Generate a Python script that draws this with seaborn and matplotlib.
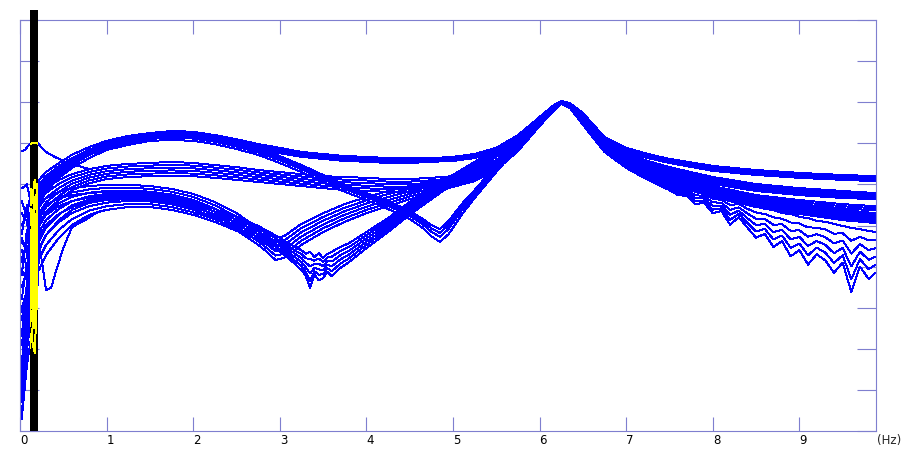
import matplotlib
matplotlib.use('Agg')

import numpy
import pandas
import seaborn as sns
import matplotlib.pyplot as plt

FRAME = '#7f7fcf'
TRACE = '#0000ff'
MARK = '#ffff00'

X_TICKS = [0, 1, 2, 3, 4, 5, 6, 7, 8, 9]
Y_TICKS = [0, 1, 2, 3, 4, 5, 6, 7, 8, 9, 10]

# black cursor band (Hz)
CURSOR = (0.115, 0.205)

# every trace starts with four low frequency values
LOW_FREQ = [0.02, 0.08, 0.13, 0.17]

# band A1: top hump, flat plateau up to the 6.25 Hz peak
FREQ_A = [0.22, 0.3, 0.45, 0.6, 0.8, 1.0, 1.25, 1.5, 1.75, 2.0, 2.25, 2.5, 2.75, 3.0, 3.25, 3.5, 3.75,
          4.0, 4.25, 4.5, 4.75, 5.0, 5.25, 5.5, 5.75, 6.0, 6.15, 6.25, 6.35, 6.5, 6.75, 7.0, 7.25, 7.5,
          8.0, 8.5, 9.0, 9.5, 9.88]
A1_UP = [6.11, 6.30, 6.52, 6.72, 6.91, 7.06, 7.18, 7.25, 7.30, 7.28, 7.20, 7.10, 6.98, 6.89, 6.79, 6.74, 6.69,
         6.67, 6.64, 6.64, 6.64, 6.67, 6.74, 6.89, 7.20, 7.64, 7.91, 8.03, 7.98, 7.74, 7.15, 6.89, 6.74, 6.62,
         6.45, 6.35, 6.28, 6.23, 6.20]
A1_LOW = [5.62, 5.91, 6.23, 6.47, 6.72, 6.89, 7.01, 7.10, 7.15, 7.13, 7.06, 6.96, 6.86, 6.76, 6.67, 6.62, 6.57,
          6.55, 6.52, 6.52, 6.55, 6.57, 6.64, 6.79, 7.10, 7.54, 7.83, 7.98, 7.93, 7.66, 7.06, 6.79, 6.64, 6.52,
          6.33, 6.23, 6.16, 6.11, 6.08]
A1_SPOTS = [0.0, 0.33, 0.67, 1.0]
A1_START = [[5.6, 5.2, 5.9, 5.4], [4.1, 4.6, 5.4, 4.7], [2.3, 3.6, 4.9, 4.2], [5.9, 6.0, 5.5, 6.1]]

# band B: second hump, same frequency grid as A1
B_UP = [5.74, 5.91, 6.11, 6.25, 6.37, 6.45, 6.50, 6.52, 6.55, 6.52, 6.47, 6.42, 6.35, 6.30, 6.25, 6.20, 6.18,
        6.16, 6.13, 6.13, 6.16, 6.20, 6.33, 6.57, 7.01, 7.54, 7.86, 8.03, 7.96, 7.69, 7.08, 6.76, 6.57, 6.42,
        6.18, 6.01, 5.91, 5.84, 5.79]
B_LOW = [5.01, 5.33, 5.62, 5.86, 6.03, 6.13, 6.18, 6.20, 6.20, 6.20, 6.16, 6.11, 6.06, 6.01, 5.96, 5.91, 5.86,
         5.84, 5.82, 5.82, 5.86, 5.94, 6.08, 6.35, 6.81, 7.42, 7.76, 7.96, 7.86, 7.54, 6.91, 6.59, 6.40, 6.23,
         6.01, 5.84, 5.74, 5.67, 5.64]
B_SPOTS = [0.0, 0.2, 0.4, 0.6, 0.8, 1.0]
B_START = [[4.4, 4.0, 4.8, 3.9], [0.9, 2.4, 3.9, 3.1], [5.3, 5.1, 4.4, 5.2], [2.7, 3.5, 3.0, 4.3],
           [4.8, 5.5, 5.0, 5.6], [0.4, 1.9, 3.2, 2.7]]

# band A2: top hump falling into the 4.8 Hz notch
FREQ_A2 = [0.22, 0.3, 0.45, 0.6, 0.8, 1.0, 1.25, 1.5, 1.75, 2.0, 2.25, 2.5, 2.75, 3.0, 3.25, 3.5, 3.75,
           4.0, 4.25, 4.5, 4.65, 4.75, 4.85, 4.95, 5.1, 5.25, 5.5, 5.75, 6.0, 6.15, 6.25, 6.35, 6.5, 6.75,
           7.0, 7.25, 7.5, 8.0, 8.5, 9.0, 9.5, 9.88]
A2_UP = [5.99, 6.20, 6.45, 6.64, 6.84, 7.01, 7.13, 7.20, 7.23, 7.20, 7.13, 7.01, 6.86, 6.69, 6.47, 6.23, 5.99,
         5.79, 5.60, 5.35, 5.16, 5.01, 4.91, 5.11, 5.52, 5.86, 6.47, 7.06, 7.59, 7.88, 8.03, 7.96, 7.66, 7.03,
         6.69, 6.47, 6.30, 5.96, 5.74, 5.62, 5.52, 5.47]
A2_LOW = [5.50, 5.82, 6.16, 6.40, 6.64, 6.84, 6.96, 7.06, 7.08, 7.06, 6.98, 6.86, 6.72, 6.52, 6.30, 6.06, 5.82,
          5.62, 5.40, 5.16, 4.94, 4.74, 4.60, 4.79, 5.26, 5.67, 6.30, 6.91, 7.47, 7.81, 7.96, 7.88, 7.57, 6.91,
          6.57, 6.33, 6.16, 5.82, 5.60, 5.45, 5.35, 5.30]
A2_SPOTS = [0.0, 0.3, 0.6, 1.0]
A2_START = [[3.8, 4.9, 4.0, 5.6], [1.6, 3.2, 4.4, 3.5], [5.0, 5.3, 4.6, 5.7], [3.2, 4.1, 3.6, 4.8]]

# band C: third hump with the notch near 3 Hz
FREQ_C = [0.22, 0.3, 0.45, 0.6, 0.8, 1.0, 1.25, 1.5, 1.75, 2.0, 2.25, 2.5, 2.75, 2.85, 2.95, 3.05, 3.15, 3.25,
          3.5, 3.75, 4.0, 4.25, 4.5, 4.75, 5.0, 5.25, 5.5, 5.75, 6.0, 6.15, 6.25, 6.35, 6.5, 6.75,
          7.0, 7.25, 7.5, 8.0, 8.5, 9.0, 9.5, 9.88]
C_UP = [5.50, 5.67, 5.82, 5.91, 5.96, 5.99, 5.99, 5.96, 5.89, 5.77, 5.57, 5.30, 4.94, 4.82, 4.70, 4.74, 4.89, 5.04,
        5.30, 5.52, 5.69, 5.84, 5.96, 6.06, 6.18, 6.35, 6.59, 7.01, 7.54, 7.86, 8.03, 7.93, 7.64, 7.01,
        6.67, 6.45, 6.25, 5.91, 5.67, 5.50, 5.38, 5.30]
C_LOW = [4.40, 4.77, 5.13, 5.38, 5.55, 5.62, 5.64, 5.62, 5.55, 5.40, 5.18, 4.89, 4.53, 4.36, 4.16, 4.21, 4.36, 4.53,
         4.84, 5.09, 5.30, 5.47, 5.64, 5.79, 5.94, 6.13, 6.40, 6.84, 7.42, 7.79, 7.96, 7.86, 7.52, 6.86,
         6.52, 6.28, 6.08, 5.69, 5.45, 5.28, 5.13, 5.06]
C_SPOTS = [0.0, 0.2, 0.4, 0.6, 0.8, 1.0]
C_START = [[3.5, 3.9, 3.2, 4.5], [4.6, 4.4, 3.9, 4.9], [1.3, 2.8, 3.4, 2.9], [2.9, 3.3, 4.1, 3.4],
           [0.7, 2.0, 2.9, 2.5], [4.2, 4.5, 3.7, 4.7]]

# band D: lowest hump, noisy notch near 3.4 Hz and noisy tail
FREQ_D = [0.22, 0.3, 0.45, 0.6, 0.8, 1.0, 1.25, 1.5, 1.75, 2.0, 2.25, 2.5, 2.75,
          3.0, 3.1, 3.2, 3.25, 3.3, 3.35, 3.4, 3.45, 3.5, 3.55, 3.6, 3.7, 3.8,
          4.0, 4.25, 4.5, 4.75, 5.0, 5.25, 5.5, 5.75, 6.0, 6.15, 6.25, 6.35, 6.5, 6.75, 7.0, 7.25,
          7.5, 7.6, 7.7, 7.8, 7.9, 8.0, 8.1, 8.2, 8.3, 8.4, 8.5, 8.6, 8.7, 8.8, 8.9, 9.0, 9.1, 9.2,
          9.3, 9.4, 9.5, 9.6, 9.7, 9.8, 9.88]
D_UP = [5.26, 5.50, 5.67, 5.74, 5.79, 5.82, 5.82, 5.79, 5.72, 5.57, 5.40, 5.21, 4.99,
        4.70, 4.57, 4.45, 4.40, 4.31, 4.36, 4.23, 4.33, 4.21, 4.31, 4.36, 4.48, 4.57,
        4.84, 5.18, 5.57, 5.91, 6.23, 6.55, 6.84, 7.18, 7.59, 7.88, 8.03, 7.93, 7.57, 6.93, 6.57, 6.30,
        6.06, 6.01, 5.94, 5.89, 5.82, 5.74, 5.69, 5.62, 5.60, 5.52, 5.47, 5.40, 5.38, 5.30, 5.28, 5.21, 5.18, 5.11,
        5.09, 5.04, 4.99, 4.94, 4.91, 4.87, 4.84]
D_LOW = [3.92, 4.28, 4.70, 5.01, 5.26, 5.38, 5.45, 5.45, 5.38, 5.26, 5.09, 4.87, 4.65,
         4.36, 4.21, 4.01, 3.92, 3.77, 3.48, 3.80, 3.67, 3.72, 3.87, 3.77, 3.97, 4.11,
         4.45, 4.84, 5.26, 5.64, 6.01, 6.35, 6.67, 7.03, 7.49, 7.81, 7.96, 7.86, 7.45, 6.79, 6.40, 6.11,
         5.86, 5.74, 5.72, 5.52, 5.55, 5.30, 5.35, 5.02, 5.20, 4.95, 4.70, 4.80, 4.48, 4.62, 4.25, 4.40, 4.05, 4.30,
         4.15, 3.85, 4.10, 3.38, 4.00, 3.70, 3.85]
D_SPOTS = [0.0, 0.2, 0.4, 0.6, 0.8, 1.0]
D_START = [[2.1, 3.0, 3.7, 2.8], [3.9, 3.7, 3.3, 4.2], [1.1, 2.6, 2.2, 3.0], [0.3, 1.6, 2.3, 1.9],
           [3.0, 3.4, 4.0, 3.3], [4.7, 4.3, 3.5, 4.4]]

# two single traces at the left edge
S1_FREQ = [0.02, 0.06, 0.1, 0.15, 0.2, 0.3, 0.4, 0.5, 0.65]
S1_LEVEL = [6.81, 6.84, 6.96, 7.01, 7.01, 6.79, 6.67, 6.57, 6.47]
S2_FREQ = [0.02, 0.08, 0.15, 0.22, 0.3, 0.36, 0.42, 0.5, 0.6, 0.75, 0.9]
S2_LEVEL = [1.5, 2.2, 3.0, 4.60, 3.43, 3.48, 3.92, 4.45, 4.96, 5.13, 5.33]


def band_rows(name, freq, upper, lower, spots, starts):
    upper = numpy.array(upper)
    lower = numpy.array(lower)
    rows = []
    for i, (spot, start) in enumerate(zip(spots, starts)):
        level = upper + spot * (lower - upper)
        for f, v in zip(LOW_FREQ + list(freq), list(start) + list(level)):
            rows.append((f'{name}{i}', f, v))
    return rows


def single_rows(name, freq, level):
    return [(name, f, v) for f, v in zip(freq, level)]


rows = []
rows += band_rows('a1_', FREQ_A, A1_UP, A1_LOW, A1_SPOTS, A1_START)
rows += band_rows('a2_', FREQ_A2, A2_UP, A2_LOW, A2_SPOTS, A2_START)
rows += band_rows('b_', FREQ_A, B_UP, B_LOW, B_SPOTS, B_START)
rows += band_rows('c_', FREQ_C, C_UP, C_LOW, C_SPOTS, C_START)
rows += band_rows('d_', FREQ_D, D_UP, D_LOW, D_SPOTS, D_START)
rows += single_rows('s1', S1_FREQ + FREQ_A[4:], S1_LEVEL + B_UP[4:])
rows += single_rows('s2', S2_FREQ + FREQ_D[5:], S2_LEVEL + D_LOW[5:])

data = pandas.DataFrame(rows, columns=['curve', 'freq', 'level'])

sns.set_style('white')
plt.rcParams['font.family'] = ['DejaVu Sans']

fig = plt.figure(figsize=(9.02, 4.55), dpi=100)
ax = fig.add_axes([20 / 902, 1 - 431 / 455, 856 / 902, 411 / 455])

sns.lineplot(data=data, x='freq', y='level', units='curve', estimator=None, color=TRACE,
             lw=0.7, antialiased=False, ax=ax, legend=False, zorder=2)

bar = ax.axvspan(CURSOR[0], CURSOR[1], ymin=0, ymax=1.024, color='black', lw=0, zorder=3, clip_on=False)

n_before = len(ax.lines)
sns.lineplot(data=data, x='freq', y='level', units='curve', estimator=None, color=MARK,
             lw=0.7, antialiased=False, ax=ax, legend=False, zorder=4)
for line in ax.lines[n_before:]:
    line.set_clip_path(bar)

ax.set_xlim(0, 9.885)
ax.set_ylim(0, 10)
ax.set_xticks(X_TICKS)
ax.set_xticklabels([str(t) for t in X_TICKS], ha='left')
ax.set_yticks(Y_TICKS)
ax.set_yticklabels([])
ax.set_xlabel('')
ax.set_ylabel('')

for side in ['left', 'right', 'top', 'bottom']:
    ax.spines[side].set_visible(True)
    ax.spines[side].set_color(FRAME)
    ax.spines[side].set_linewidth(0.8)

ax.tick_params(axis='x', which='both', direction='in', length=10, width=0.8, color=FRAME,
               top=True, bottom=True, labelsize=8.5, labelcolor='black', pad=2)
ax.tick_params(axis='y', which='both', direction='in', length=14, width=0.8, color=FRAME,
               left=True, right=True, labelleft=False)

ax.annotate('(Hz)', xy=(1, 0), xycoords='axes fraction', xytext=(0.5, -2.2),
            textcoords='offset points', ha='left', va='top', fontsize=8.5)

fig.savefig('out.png', dpi=100)
plt.close('all')
